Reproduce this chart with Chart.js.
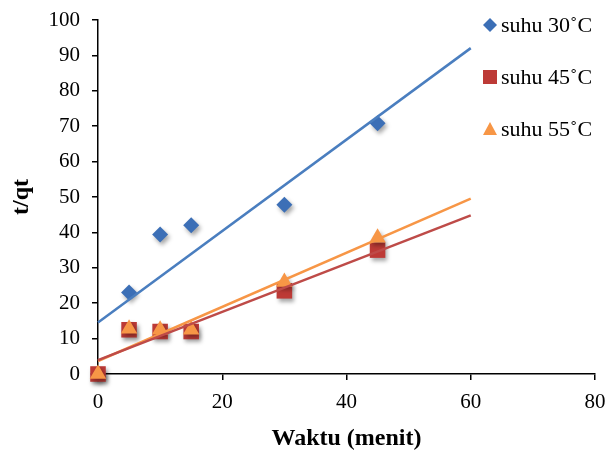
<!DOCTYPE html>
<html>
<head>
<meta charset="utf-8">
<script src="https://cdn.jsdelivr.net/npm/chart.js@4.4.1/dist/chart.umd.min.js"></script>
<style>
    html, body { margin: 0; padding: 0; background: #fff; }
    #wrap { width: 616px; height: 453px; position: relative; }
</style>
</head>
<body>
<div id="wrap"><canvas id="kinetikChart" width="616" height="453"></canvas></div>
<script>
// Data
const waktu = [0, 5, 10, 15, 30, 45];
const suhu30 = [0, 23, 39.4, 42, 47.8, 70.8];
const suhu45 = [0, 12.5, 12, 12, 23.5, 35];
const suhu55 = [0, 12.8, 12.5, 12.5, 26, 38.5];
const labelSeri = ['suhu 30˚C', 'suhu 45˚C', 'suhu 55˚C'];
const warnaTitik = ['#3C6FB6', '#BD3A36', '#F79646'];
const warnaGaris = ['#4A7EBF', '#BE4B48', '#F79646'];
const bentukTitik = ['rectRot', 'rect', 'triangle'];
const xTicks = [0, 20, 40, 60, 80];
const yTicks = [0, 10, 20, 30, 40, 50, 60, 70, 80, 90, 100];
const trendXMax = 60;

// Regresi linear (trendline seperti Excel)
function regresi(xs, ys) {
    const n = xs.length;
    const mx = xs.reduce((a, b) => a + b, 0) / n;
    const my = ys.reduce((a, b) => a + b, 0) / n;
    let sxy = 0, sxx = 0;
    for (let i = 0; i < n; i++) {
        sxy += (xs[i] - mx) * (ys[i] - my);
        sxx += (xs[i] - mx) * (xs[i] - mx);
    }
    const m = sxy / sxx;
    return { m: m, b: my - m * mx };
}

function titik(ys) {
    return waktu.map((x, i) => ({ x: x, y: ys[i] }));
}

const semuaSeri = [suhu30, suhu45, suhu55];
const radius = [8, 11, 9.5];
const datasets = [];

semuaSeri.forEach((ys, i) => {
    const r = regresi(waktu, ys);
    datasets.push({
        type: 'scatter',
        label: 'trend ' + i,
        data: [{ x: 0, y: r.b }, { x: trendXMax, y: r.b + r.m * trendXMax }],
        showLine: true,
        borderColor: warnaGaris[i],
        borderWidth: 2.5,
        pointRadius: 0,
        order: i,
        clip: false
    });
});

semuaSeri.forEach((ys, i) => {
    datasets.push({
        type: 'scatter',
        label: labelSeri[i],
        data: titik(ys),
        pointStyle: bentukTitik[i],
        pointRadius: radius[i],
        pointHoverRadius: radius[i],
        backgroundColor: warnaTitik[i],
        borderColor: warnaTitik[i],
        borderWidth: 0,
        order: 10 - i,
        clip: false,
        shadow: true
    });
});

// Bayangan untuk marker
const shadowPlugin = {
    id: 'shadow',
    beforeDatasetDraw(chart, args) {
        const ds = chart.data.datasets[args.index];
        if (!ds.shadow) return;
        const ctx = chart.ctx;
        ctx.save();
        ctx.shadowColor = 'rgba(0,0,0,0.35)';
        ctx.shadowBlur = 4;
        ctx.shadowOffsetX = 2;
        ctx.shadowOffsetY = 3;
    },
    afterDatasetDraw(chart, args) {
        const ds = chart.data.datasets[args.index];
        if (!ds.shadow) return;
        chart.ctx.restore();
    }
};

// Legenda di kanan atas
const legendPlugin = {
    id: 'legendKanan',
    afterDraw(chart) {
        const ctx = chart.ctx;
        const baris = [25, 77, 129];
        ctx.save();
        ctx.font = '22px "Liberation Serif", serif';
        ctx.textBaseline = 'middle';
        labelSeri.forEach((teks, i) => {
            const y = baris[i];
            const x = 490;
            ctx.fillStyle = warnaTitik[i];
            ctx.beginPath();
            if (i === 0) {
                ctx.moveTo(x - 7, y); ctx.lineTo(x, y - 7); ctx.lineTo(x + 7, y); ctx.lineTo(x, y + 7);
            } else if (i === 1) {
                ctx.rect(x - 7, y - 7, 14, 14);
            } else {
                ctx.moveTo(x - 7, y + 6); ctx.lineTo(x, y - 7); ctx.lineTo(x + 7, y + 6);
            }
            ctx.closePath();
            ctx.fill();
            ctx.fillStyle = '#000';
            ctx.fillText(teks, 501, y + 1);
        });
        ctx.restore();
    }
};

const ctx = document.getElementById('kinetikChart').getContext('2d');
const chart = new Chart(ctx, {
    data: { datasets: datasets },
    options: {
        responsive: false,
        animation: false,
        layout: { padding: { top: 20, right: 21, left: 3, bottom: 0 } },
        plugins: {
            legend: { display: false },
            tooltip: { enabled: false }
        },
        scales: {
            x: {
                type: 'linear',
                min: 0,
                max: 80,
                afterBuildTicks: axis => { axis.ticks = xTicks.map(v => ({ value: v })); },
                afterFit: axis => { axis.height = 79; },
                grid: { drawOnChartArea: false, color: '#000', tickLength: 6, lineWidth: 1.5 },
                border: { color: '#000', width: 1.5 },
                ticks: { color: '#000', font: { family: '"Liberation Serif", serif', size: 21 }, padding: 10, maxRotation: 0 },
                title: {
                    display: true,
                    text: 'Waktu (menit)',
                    color: '#000',
                    font: { family: '"Liberation Serif", serif', size: 24, weight: 'bold' },
                    padding: { top: 0, bottom: 0 }
                }
            },
            y: {
                type: 'linear',
                min: 0,
                max: 100,
                afterBuildTicks: axis => { axis.ticks = yTicks.map(v => ({ value: v })); },
                afterFit: axis => { axis.width = 95; axis.paddingTop = 0; axis.paddingBottom = 0; },
                grid: { drawOnChartArea: false, color: '#000', tickLength: 6, lineWidth: 1.5 },
                border: { color: '#000', width: 1.5 },
                ticks: { color: '#000', font: { family: '"Liberation Serif", serif', size: 21 }, padding: 12 },
                title: {
                    display: true,
                    text: 't/qt',
                    color: '#000',
                    font: { family: '"Liberation Serif", serif', size: 24, weight: 'bold' },
                    padding: { top: 4, bottom: 0 }
                }
            }
        }
    },
    plugins: [shadowPlugin, legendPlugin]
});
</script>
</body>
</html>
